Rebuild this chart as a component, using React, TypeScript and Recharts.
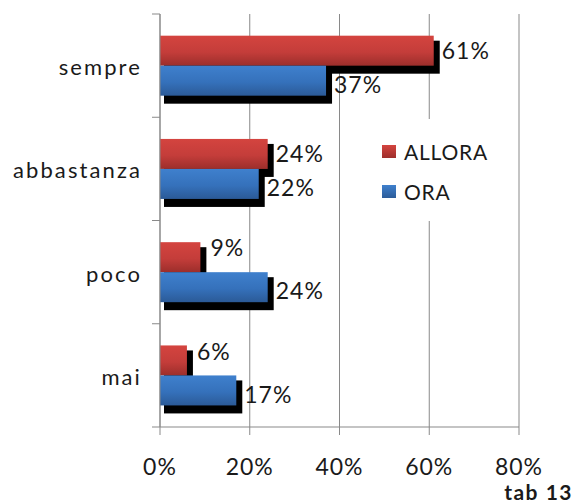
import React from "react";
import { BarChart, Bar, XAxis, YAxis, CartesianGrid, Legend, LabelList } from "recharts";

const categories = ["sempre", "abbastanza", "poco", "mai"];
const alloraValues = [61, 24, 9, 6];
const oraValues = [37, 22, 24, 17];
const xTicks = [0, 20, 40, 60, 80];
const seriesNames = ["ALLORA", "ORA"];
const footnote = "tab 13";

const data = categories.map((c, i) => ({ cat: c, allora: alloraValues[i], ora: oraValues[i] }));

const W = 576;
const H = 504;
const MARGIN = { top: 14, right: 57, left: 8, bottom: 0 };
const Y_WIDTH = 152;
const AXIS_X = MARGIN.left + Y_WIDTH;
const GRAY = "#898989";
const FONT = "Lato, 'Open Sans', sans-serif";

const ShadowBar = (gradId: string) => (props: any) => {
  const { x, y, width, height } = props;
  if (width == null || height == null) return null;
  return (
    <g>
      <rect x={x + 4} y={y + 5} width={Math.max(0, width + 2)} height={height + 3} fill="#000" />
      <rect x={x} y={y} width={width} height={height} fill={`url(#${gradId})`} />
    </g>
  );
};

const makeLabel = (isTop: boolean) => (props: any) => {
  const { x, y, width, height, value, index } = props;
  // when the upper bar is shorter than the one below it, its label sits a bit higher
  const raised = isTop && index != null && alloraValues[index] < oraValues[index];
  const dyShift = isTop ? (raised ? -9 : 0) : 4;
  return (
    <text
      x={x + width + (raised ? 10 : 8)}
      y={y + height / 2 + dyShift}
      dy="0.36em"
      fontFamily={FONT}
      fontSize={23}
      letterSpacing={1}
      fill="#1a1a1a"
      textAnchor="start"
    >
      {value}%
    </text>
  );
};

const CatTick = (props: any) => {
  const { y, payload, index, visibleTicksCount } = props;
  const half = payload && payload.offset ? payload.offset : 0;
  return (
    <g>
      <text
        x={AXIS_X - 18}
        y={y + 1.5}
        dy="0.36em"
        textAnchor="end"
        fontFamily={FONT}
        fontSize={22}
        letterSpacing={2.1}
        fill="#1a1a1a"
      >
        {payload.value}
      </text>
      <line x1={AXIS_X - 8} x2={AXIS_X} y1={y - half} y2={y - half} stroke={GRAY} />
      {index === visibleTicksCount - 1 ? (
        <line x1={AXIS_X - 8} x2={AXIS_X} y1={y + half} y2={y + half} stroke={GRAY} />
      ) : null}
    </g>
  );
};

const LegendContent = () => (
  <div style={{ background: "#fff", padding: "12px 10px 10px 10px", width: 110, fontFamily: FONT }}>
    {seriesNames.map((n, i) => (
      <div key={n} style={{ display: "flex", alignItems: "center", height: 40 }}>
        <div
          style={{
            width: 14,
            height: 13,
            marginRight: 8,
            background:
              i === 0
                ? "linear-gradient(#d4443f, #9e2f2c)"
                : "linear-gradient(#3f80cd, #2c5c99)",
          }}
        />
        <span style={{ fontSize: 21, letterSpacing: 0.8, color: "#1a1a1a" }}>{n}</span>
      </div>
    ))}
  </div>
);

export default function App() {
  return (
    <div style={{ position: "absolute", left: 0, top: 0, width: W, height: H, background: "#fff" }}>
      <BarChart
        width={W}
        height={H}
        data={data}
        layout="vertical"
        margin={MARGIN}
        barCategoryGap="21%"
        barGap={0}
      >
        <defs>
          <linearGradient id="gradRed" x1="0" y1="0" x2="0" y2="1">
            <stop offset="0%" stopColor="#d4443f" />
            <stop offset="55%" stopColor="#c43d3a" />
            <stop offset="100%" stopColor="#9c2e2b" />
          </linearGradient>
          <linearGradient id="gradBlue" x1="0" y1="0" x2="0" y2="1">
            <stop offset="0%" stopColor="#3f80cd" />
            <stop offset="55%" stopColor="#3571bb" />
            <stop offset="100%" stopColor="#2b5a97" />
          </linearGradient>
        </defs>
        <CartesianGrid horizontal={false} vertical stroke={GRAY} />
        <XAxis
          type="number"
          domain={[0, 80]}
          ticks={xTicks}
          interval={0}
          tickFormatter={(v: number) => `${v}%`}
          height={77}
          axisLine={{ stroke: GRAY }}
          tickLine={{ stroke: GRAY }}
          tickSize={8}
          tickMargin={24}
          tick={{ fontFamily: FONT, fontSize: 23, letterSpacing: 1, fill: "#1a1a1a" }}
        />
        <YAxis
          type="category"
          dataKey="cat"
          width={Y_WIDTH}
          axisLine={{ stroke: GRAY }}
          tickLine={false}
          tick={<CatTick />}
          interval={0}
        />
        <Legend
          layout="vertical"
          align="center"
          verticalAlign="middle"
          content={<LegendContent />}
          wrapperStyle={{ position: "absolute", left: 372, top: 119, width: 130 }}
        />
        <Bar dataKey="allora" name="ALLORA" isAnimationActive={false} shape={ShadowBar("gradRed")}>
          <LabelList dataKey="allora" content={makeLabel(true)} />
        </Bar>
        <Bar dataKey="ora" name="ORA" isAnimationActive={false} shape={ShadowBar("gradBlue")}>
          <LabelList dataKey="ora" content={makeLabel(false)} />
        </Bar>
      </BarChart>
      <div
        style={{
          position: "absolute",
          right: 3,
          top: 479,
          fontFamily: FONT,
          fontWeight: 700,
          fontSize: 21,
          letterSpacing: 1.5,
          color: "#1a1a1a",
        }}
      >
        {footnote}
      </div>
    </div>
  );
}
